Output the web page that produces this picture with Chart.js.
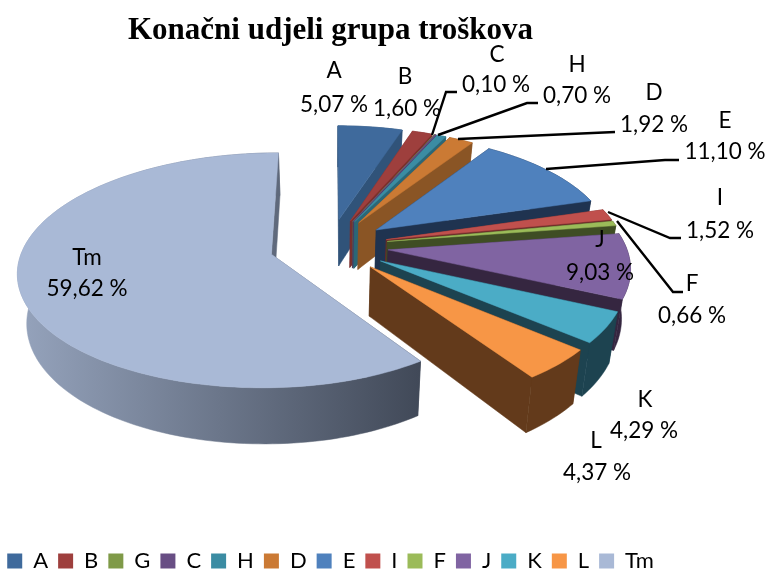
<!DOCTYPE html>
<html>
<head>
<meta charset="utf-8">
<title>Konačni udjeli grupa troškova</title>
<script src="https://cdn.jsdelivr.net/npm/chart.js@4/dist/chart.umd.min.js"></script>
<style>
html, body { margin: 0; padding: 0; background: #fff; }
#box { position: relative; width: 767px; height: 570px; }
</style>
</head>
<body>
<div id="box"><canvas id="myChart"></canvas></div>
<script>
const categories = ['A', 'B', 'G', 'C', 'H', 'D', 'E', 'I', 'F', 'J', 'K', 'L', 'Tm'];
const shares = [5.07, 1.60, 0.02, 0.10, 0.70, 1.92, 11.10, 1.52, 0.66, 9.03, 4.29, 4.37, 59.62];
const topColors = ['#3F6A9C', '#9E3F3D', '#7F9A48', '#684E84', '#3B8CA3', '#CB7A34', '#4F81BD', '#C0504D', '#9BBB59', '#8064A2', '#4BACC6', '#F79646', '#A9B9D6'];
const wallColors = ['#305379', '#7A2F2D', '#5F7336', '#4C3961', '#2B6777', '#8A5525', '#1F3350', '#6B2A28', '#3F4D24', '#352640', '#1D4350', '#633A1B', ['#95A3BC', '#414958']];

// text placed around the pie: [category, line1 x, line1 y, line2 x, line2 y]
const labelSpots = [
  ['A', 334, 78, 334, 112],
  ['B', 405, 84, 407, 116],
  ['C', 497, 62, 496, 92],
  ['H', 577, 72, 577, 103],
  ['D', 654, 100, 654, 132],
  ['E', 725, 128, 725, 159],
  ['I', 720, 205, 720, 238],
  ['J', 600, 247, 600, 280],
  ['F', 692, 291, 692, 323],
  ['K', 645, 407, 644, 438],
  ['L', 596, 448, 597, 480],
  ['Tm', 87, 265, 87, 296]
];
const leaderLines = [
  [[457, 92], [446, 92], [432, 135]],
  [[538, 103], [527, 103], [438, 135]],
  [[615, 132], [458, 139]],
  [[679, 160], [665, 160], [546, 169]],
  [[681, 238], [670, 238], [608, 212]],
  [[683, 292], [673, 292], [617, 221]]
];

// view of the tilted pie
const view = { x0: 330, y0: 246, rxLeft: 248, rxRight: 238, ry: 113, tilt: 0.135, depth: 48, shrink: 0.97 };

function project(ux, uy) {
  const w = 1 + view.tilt * uy;
  const rx = ux < 0 ? view.rxLeft : view.rxRight;
  return [view.x0 + rx * ux / w, view.y0 - view.ry * uy / w, view.depth / w];
}

function slicePoints(arc) {
  const p = arc.getProps(['startAngle', 'endAngle', 'outerRadius']);
  const ex = arc.options.offset / p.outerRadius;
  const mid = (p.startAngle + p.endAngle) / 2;
  const ox = Math.cos(mid) * ex;
  const oy = -Math.sin(mid) * ex;
  const rim = [];
  const steps = Math.max(2, Math.ceil((p.endAngle - p.startAngle) * 40));
  for (let k = 0; k <= steps; k++) {
    const a = p.startAngle + (p.endAngle - p.startAngle) * k / steps;
    rim.push(project(ox + Math.cos(a), oy - Math.sin(a)));
  }
  return { hub: project(ox, oy), rim: rim };
}

function fillPoly(ctx, pts, fill) {
  ctx.beginPath();
  pts.forEach((q, i) => i ? ctx.lineTo(q[0], q[1]) : ctx.moveTo(q[0], q[1]));
  ctx.closePath();
  ctx.fillStyle = fill;
  ctx.strokeStyle = fill;
  ctx.lineWidth = 0.5;
  ctx.fill();
  ctx.stroke();
}

// the bottom of the pie sits further away, so it pulls in towards the middle
function dropped(pts) {
  return pts.map(q => [view.x0 + (q[0] - view.x0) * view.shrink, q[1] + q[2]]);
}

const tiltedPie = {
  id: 'tiltedPie',
  beforeDatasetDraw(chart, args) {
    const ctx = chart.ctx;
    const arcs = chart.getDatasetMeta(args.index).data;
    arcs.forEach((arc, i) => {
      const s = slicePoints(arc);
      let wall = wallColors[i];
      if (Array.isArray(wall)) {
        const g = ctx.createLinearGradient(20, 0, 420, 0);
        g.addColorStop(0, wall[0]);
        g.addColorStop(1, wall[1]);
        wall = g;
      }
      const first = s.rim[0];
      const last = s.rim[s.rim.length - 1];
      fillPoly(ctx, [s.hub, first].concat(dropped([first, s.hub])), wall);
      fillPoly(ctx, s.rim.concat(dropped(s.rim).reverse()), wall);
      fillPoly(ctx, [s.hub, last].concat(dropped([last, s.hub])), wall);
      fillPoly(ctx, [s.hub].concat(s.rim), topColors[i]);
    });
    return false;
  }
};

const pieLabels = {
  id: 'pieLabels',
  afterDraw(chart) {
    const ctx = chart.ctx;
    ctx.save();
    ctx.strokeStyle = '#000';
    ctx.lineWidth = 2.4;
    leaderLines.forEach(line => {
      ctx.beginPath();
      line.forEach((q, i) => i ? ctx.lineTo(q[0], q[1]) : ctx.moveTo(q[0], q[1]));
      ctx.stroke();
    });
    ctx.fillStyle = '#000';
    ctx.font = '22.5px Lato, "Open Sans", sans-serif';
    ctx.textAlign = 'center';
    ctx.textBaseline = 'middle';
    labelSpots.forEach(s => {
      const value = shares[categories.indexOf(s[0])];
      ctx.fillText(s[0], s[1], s[2] - 7);
      ctx.fillText(value.toFixed(2).replace('.', ',') + ' %', s[3], s[4] - 7);
    });
    ctx.restore();
  }
};

new Chart(document.getElementById('myChart'), {
  type: 'pie',
  data: {
    labels: categories,
    datasets: [{
      data: shares,
      backgroundColor: topColors,
      borderWidth: 0,
      radius: 200,
      offset: 49
    }]
  },
  options: {
    responsive: true,
    maintainAspectRatio: false,
    animation: false,
    layout: { padding: { left: -4, right: 102, bottom: -12 } },
    plugins: {
      tooltip: { enabled: false },
      title: {
        display: true,
        text: 'Konačni udjeli grupa troškova',
        color: '#000',
        font: { family: '"Liberation Serif", serif', size: 31, weight: 'bold' },
        padding: { top: 12, bottom: 0 }
      },
      legend: {
        position: 'bottom',
        labels: {
          boxWidth: 15,
          boxHeight: 15,
          padding: 10,
          color: '#000',
          font: { family: 'Lato, "Open Sans", sans-serif', size: 22 }
        }
      }
    }
  },
  plugins: [tiltedPie, pieLabels]
});
</script>
</body>
</html>
